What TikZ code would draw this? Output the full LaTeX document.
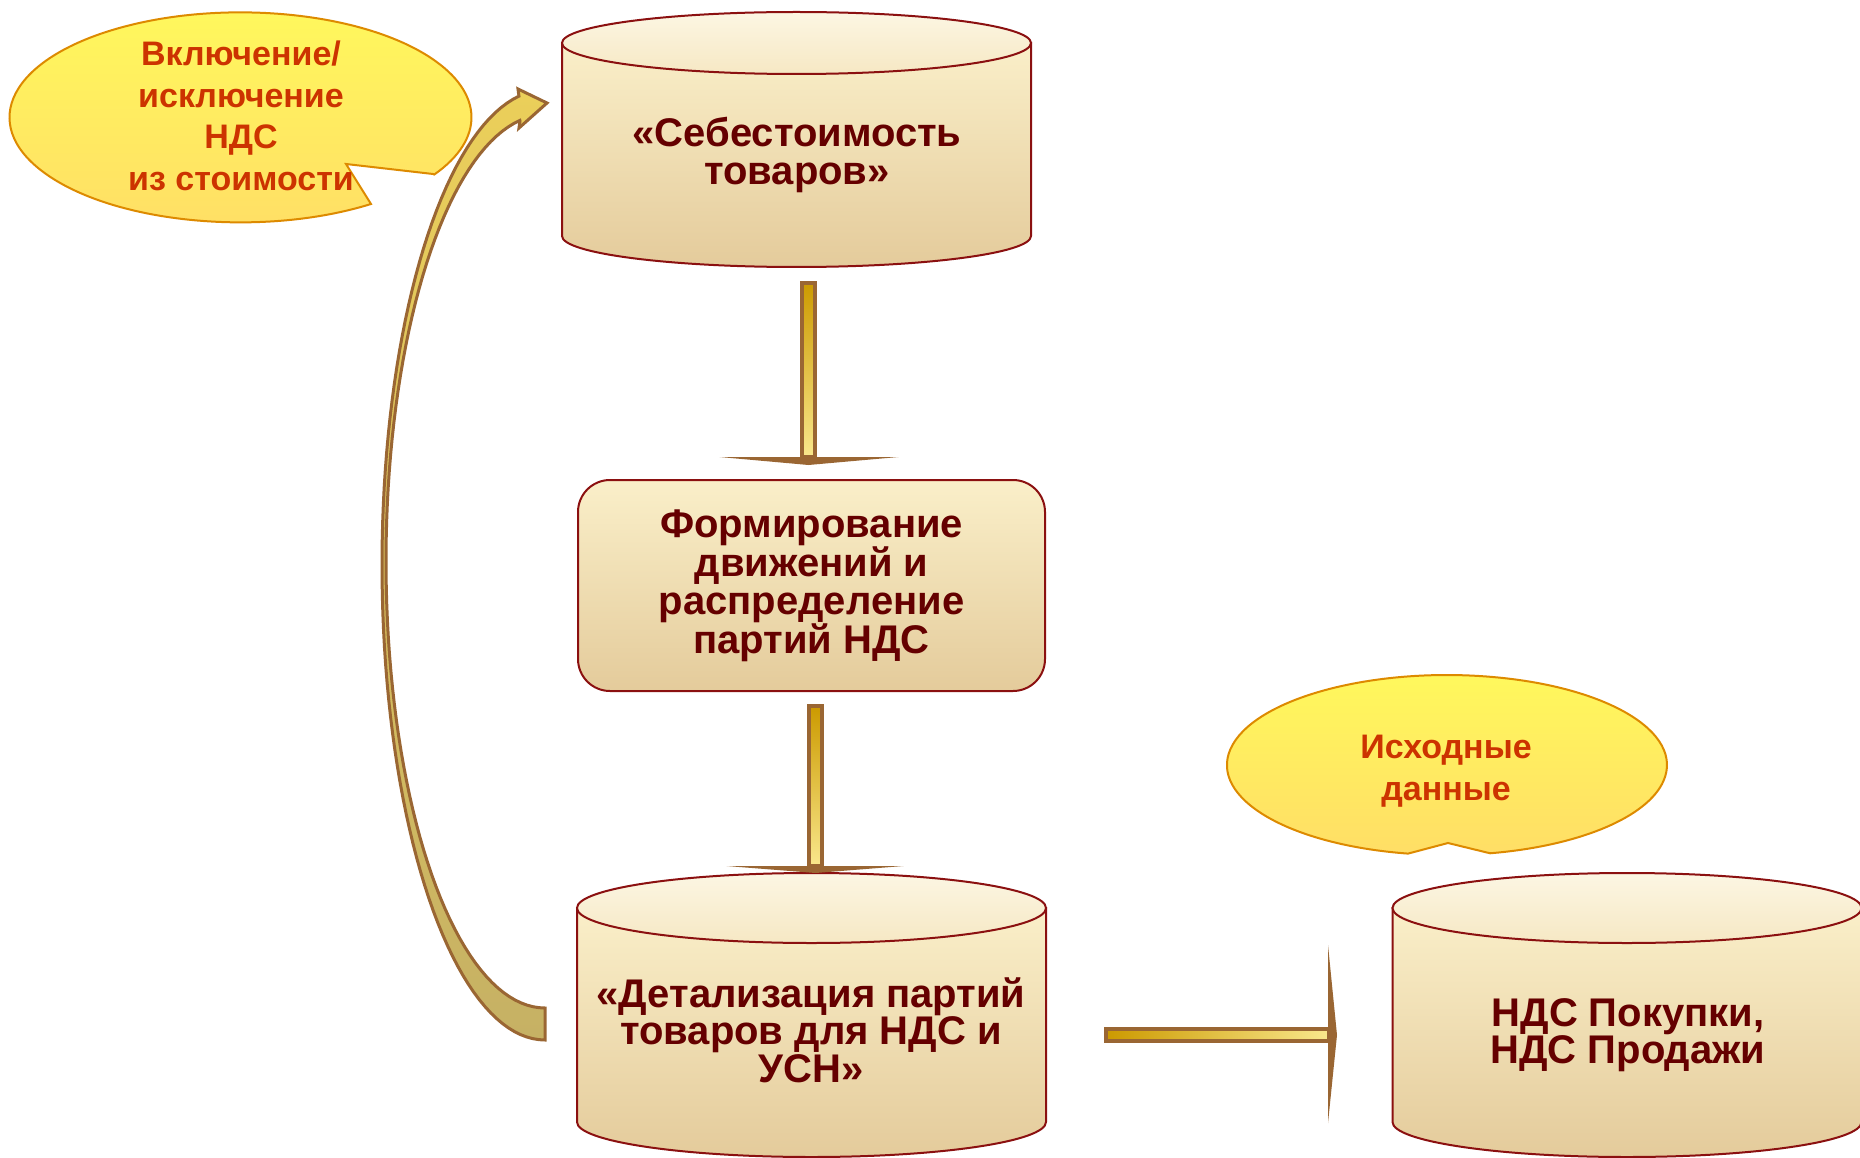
\documentclass[tikz,border=0pt]{standalone}
\usepackage{fontspec}
\setmainfont{Liberation Sans}
\usetikzlibrary{calc, positioning}

\definecolor{inkred}{HTML}{650000}
\definecolor{rimred}{HTML}{8B1010}
\definecolor{creamtop}{HTML}{FAEFC9}
\definecolor{creambot}{HTML}{E4CB9B}
\definecolor{captop}{HTML}{FCF6E3}
\definecolor{capbot}{HTML}{F6E8C4}
\definecolor{calltxt}{HTML}{CC3300}
\definecolor{callrim}{HTML}{DD8A00}
\definecolor{calltop}{HTML}{FFF95C}
\definecolor{callbot}{HTML}{FFDE66}
\definecolor{arrowrim}{HTML}{9A6633}
\definecolor{golddark}{HTML}{CC9A00}
\definecolor{goldlight}{HTML}{F9E78C}
\definecolor{olivedark}{HTML}{B39222}
\definecolor{goldtop}{HTML}{EBCF5A}
\definecolor{olivelight}{HTML}{C6B164}

\tikzset{
    drum/.style={draw=rimred, line width=2pt, top color=creamtop, bottom color=creambot},
    drumcap/.style={draw=rimred, line width=2pt, top color=captop, bottom color=capbot},
    drumtext/.style={text=inkred, align=center, font=\fontsize{40}{37.5}\selectfont\bfseries},
    procbox/.style={draw=rimred, line width=2pt, rounded corners=32, top color=creamtop, bottom color=creambot,
        minimum width=467, minimum height=211, text=inkred, align=center, font=\fontsize{40}{38}\selectfont\bfseries},
    bubble/.style={draw=callrim, line width=2pt, top color=calltop, bottom color=callbot},
    bubbletext/.style={text=calltxt, align=center, font=\fontsize{34}{41.5}\selectfont\bfseries},
    shaft/.style={draw=arrowrim, line width=4pt},
    arrowhead/.style={fill=arrowrim}
}

% drum: centre x, top y, bottom y, x radius, y radius
\newcommand{\dbdrum}[5]{%
    \path[drum] ({#1-#4},#2) -- ({#1-#4},#3) arc[start angle=180, end angle=0, x radius=#4, y radius=#5] -- ({#1+#4},#2) -- cycle;
    \path[drumcap] (#1,#2) ellipse[x radius=#4, y radius=#5];
}

\begin{document}
\begin{tikzpicture}[x=1pt, y=-1pt]
    \path[use as bounding box, fill=white] (0,0) rectangle (1860,1158);

    % Callout: include / exclude VAT
    \path[bubble] (433,174) -- (346,164) -- (371,204)
        arc[start angle=55.6, end angle=393, x radius=231, y radius=105] -- cycle;
    \node[bubbletext] (incl) at (241,116) {Включение/\\исключение\\НДС\\из стоимости};

    % Cost of goods
    \dbdrum{796.5}{43}{236}{234.5}{31}
    \node[drumtext] (cost) at (797,155) {«Себестоимость\\товаров»};

    % Movements and VAT batches
    \node[procbox] (moves) at (811.5,585.5) {Формирование\\движений и\\распределение\\партий НДС};

    % Batch details
    \dbdrum{811.5}{908}{1122}{234.5}{35}
    \node[drumtext] (detail) at (811,1030) {«Детализация партий\\товаров для НДС и\\УСН»};

    % VAT registers
    \dbdrum{1627}{908}{1122}{234.5}{35}
    \node[drumtext] (vatreg) at (1628,1035) {НДС Покупки,\\НДС Продажи};

    % Callout: source data
    \path[bubble] (1448,843) -- (1408,853.6)
        arc[start angle=100.2, end angle=438.7, x radius=220, y radius=90] -- cycle;
    \node[bubbletext] (source) at (1446,771) {Исходные\\данные};

    % cost -> moves
    \coordinate (down1) at (808.5,283);
    \coordinate (head1) at (808.5,457);
    \shade[shaft, top color=golddark, bottom color=goldlight] ($(down1)+(-6.5,0)$) rectangle ($(head1)+(6.5,0)$);
    \fill[arrowhead] ($(head1)+(-89,0)$) -- ($(head1)+(90,0)$) -- ($(head1)+(0,8)$) -- cycle;

    % moves -> detail
    \coordinate (down2) at (815.5,706);
    \coordinate (head2) at (815.5,866);
    \shade[shaft, top color=golddark, bottom color=goldlight] ($(down2)+(-6.5,0)$) rectangle ($(head2)+(6.5,0)$);
    \fill[arrowhead] ($(head2)+(-89,0)$) -- ($(head2)+(88,0)$) -- ($(head2)+(0,7)$) -- cycle;

    % detail -> vatreg
    \coordinate (right1) at (1106,1035);
    \coordinate (head3) at (1329,1035);
    \shade[shaft, left color=golddark, right color=goldlight] ($(right1)+(0,-6)$) rectangle ($(head3)+(0,6)$);
    \fill[arrowhead] ($(head3)+(-1,-90)$) -- ($(head3)+(-1,88)$) -- ($(head3)+(8,0)$) -- cycle;

    % detail -> cost (curved back)
    \shade[draw=arrowrim, line width=3pt, top color=goldtop, middle color=olivedark, bottom color=olivelight]
        plot[domain=90:260.8, samples=80] ({545+163*cos(\x)}, {565+475*sin(\x)})
        -- (518,89) -- (547,103) -- (519,128) -- (520,121)
        -- plot[domain=260.9:90, samples=80] ({545+159*cos(\x)}, {561.4+446.6*sin(\x)})
        -- cycle;
\end{tikzpicture}
\end{document}
